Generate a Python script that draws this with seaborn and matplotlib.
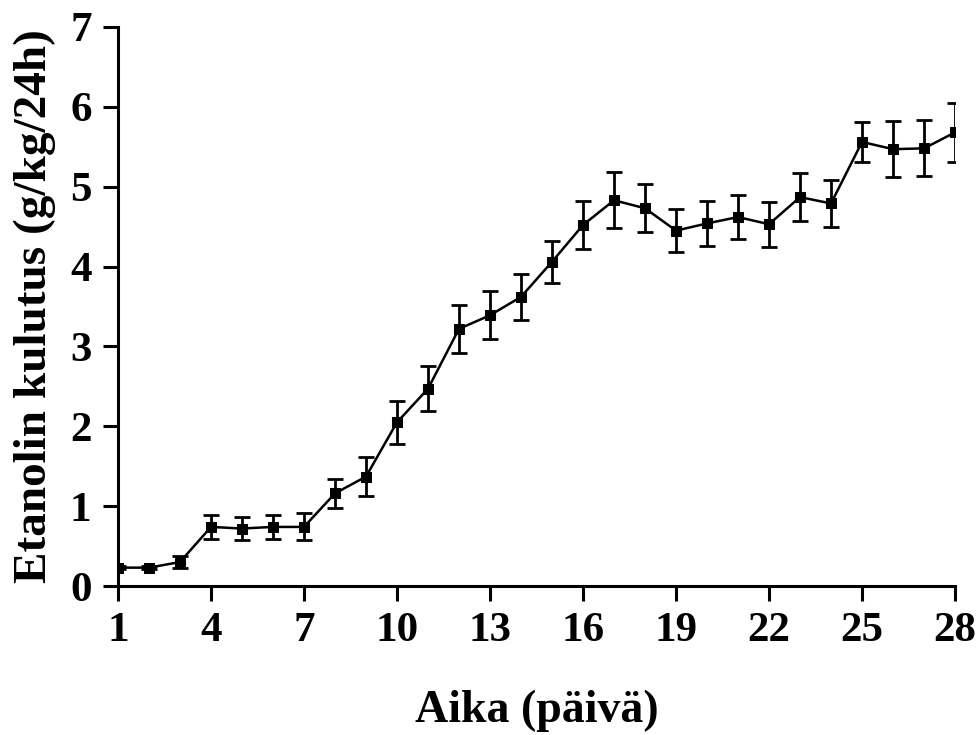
import numpy as np
import pandas as pd
import matplotlib
matplotlib.use("Agg")
import matplotlib.pyplot as plt
import seaborn as sns

# Daily ethanol intake, mean +/- SE
days = list(range(1, 29))
mean_intake = [0.23, 0.23, 0.30, 0.74, 0.72, 0.74, 0.74, 1.16, 1.37, 2.05,
               2.47, 3.22, 3.39, 3.62, 4.06, 4.52, 4.83, 4.73, 4.45, 4.54,
               4.62, 4.53, 4.87, 4.79, 5.56, 5.47, 5.48, 5.68]
se_intake = [0.02, 0.02, 0.07, 0.15, 0.15, 0.15, 0.17, 0.18, 0.24, 0.27,
             0.28, 0.30, 0.30, 0.29, 0.26, 0.30, 0.35, 0.30, 0.27, 0.28,
             0.28, 0.28, 0.30, 0.29, 0.25, 0.35, 0.35, 0.37]
x_ticks = [1, 4, 7, 10, 13, 16, 19, 22, 25, 28]
y_ticks = [0, 1, 2, 3, 4, 5, 6, 7]

df = pd.DataFrame({"day": days, "intake": mean_intake, "se": se_intake})

sns.set_style("ticks")
plt.rcParams["font.family"] = ["Liberation Serif", "DejaVu Serif"]
plt.rcParams["font.weight"] = "bold"
for key in ["text.color", "axes.labelcolor", "xtick.color", "ytick.color",
            "axes.edgecolor"]:
    plt.rcParams[key] = "black"

fig = plt.figure(figsize=(9.79, 7.35), dpi=100)
ax = fig.add_axes([0.1205, 0.2027, 0.855, 0.7606])

ax.errorbar(df["day"], df["intake"], yerr=df["se"], fmt="none",
            ecolor="black", elinewidth=2, capsize=5.5, capthick=2, zorder=2)
sns.lineplot(data=df, x="day", y="intake", ax=ax, color="black",
             linewidth=1.8, marker="s", markersize=7.5, markeredgecolor="black",
             zorder=3)

ax.set_xlim(1, 28)
ax.set_ylim(0, 7)
ax.set_xticks(x_ticks)
ax.set_yticks(y_ticks)
ax.tick_params(axis="both", direction="out", length=11, width=2.2,
               labelsize=31, colors="black", pad=8)
for lab in ax.get_xticklabels() + ax.get_yticklabels():
    lab.set_fontweight("bold")

for side in ["top", "right"]:
    ax.spines[side].set_visible(False)
for side in ["left", "bottom"]:
    ax.spines[side].set_linewidth(2.2)
    ax.spines[side].set_color("black")

ax.set_xlabel("Aika (päivä)", fontsize=33, fontweight="bold", labelpad=28)
ax.set_ylabel("Etanolin kulutus (g/kg/24h)", fontsize=34, fontweight="bold",
              labelpad=10)

fig.savefig("out.png", dpi=100)
